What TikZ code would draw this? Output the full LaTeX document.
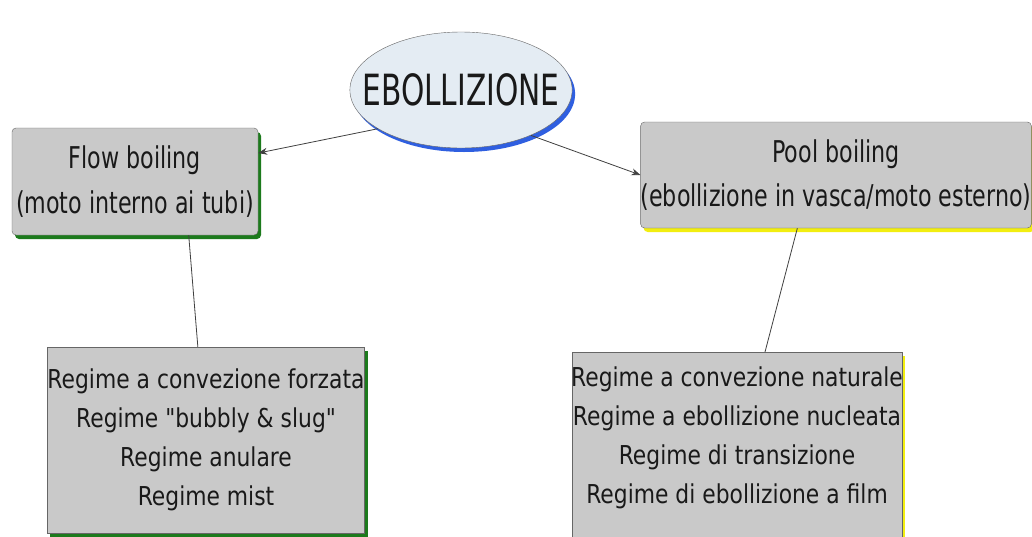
\documentclass[tikz,border=0pt]{standalone}
\usepackage{fontspec}
\usepackage{tikz}
\usetikzlibrary{shapes.geometric,shadows,arrows.meta}

\newfontfamily\mapfont[FakeStretch=0.74]{DejaVu Sans}
\newfontfamily\regfont[FakeStretch=0.84]{DejaVu Sans}
\newfontfamily\rootfont[FakeStretch=0.69]{DejaVu Sans}
\definecolor{boxgray}{HTML}{C9C9C9}
\definecolor{ellfill}{HTML}{E4ECF3}
\definecolor{shblue}{HTML}{2F5FE0}
\definecolor{shgreen}{HTML}{1C7A1C}
\definecolor{shyellow}{HTML}{F2EE10}

\begin{document}
\begin{tikzpicture}[x=1pt,y=-1pt]
    \tikzstyle{every node}=[text=black!90]
    \tikzstyle{concept}=[draw=black!60, fill=boxgray, rounded corners=4pt,
        align=center, inner sep=0pt]
    \tikzstyle{greenshadow}=[drop shadow={shadow xshift=3pt, shadow yshift=-4pt,
        fill=shgreen, opacity=1}]
    \tikzstyle{yellowshadow}=[drop shadow={shadow xshift=3pt, shadow yshift=-4pt,
        fill=shyellow, opacity=1}]
    \tikzstyle{link}=[draw=black!75, line width=0.8pt]
    \clip (0,0) rectangle (1032,536);
    \fill[white] (0,0) rectangle (1032,536);

    \node[ellipse, draw=black!60, fill=ellfill, minimum width=222, minimum height=116,
    inner xsep=-20pt, inner ysep=0pt, drop shadow={shadow xshift=3pt,
    shadow yshift=-4pt, fill=shblue, opacity=1},
    font=\rootfont\fontsize{43}{50}\selectfont] (root) at (461,90) {EBOLLIZIONE};

    \node[concept, greenshadow, minimum width=246, minimum height=107,
    font=\mapfont\fontsize{30}{45}\selectfont] (flow) at (135,181.5)
    {Flow boiling\\(moto interno ai tubi)};

    \node[concept, yellowshadow, minimum width=388, minimum height=106,
    font=\mapfont\fontsize{30}{44}\selectfont] (pool) at (836,175)
    {Pool boiling\\(ebollizione in vasca/moto esterno)};

    \node[concept, greenshadow, rounded corners=0pt, minimum width=316,
    minimum height=186, font=\regfont\fontsize{26}{39}\selectfont] (flowreg)
    at (206,440) {Regime a convezione forzata\\Regime "bubbly \& slug"\\
    Regime anulare\\Regime mist};

    \node[concept, yellowshadow, rounded corners=0pt, minimum width=330,
    minimum height=200, anchor=north] (poolreg) at (737,352) {};
    \node[align=center, inner sep=0pt, font=\regfont\fontsize{26}{39}\selectfont]
    (poolregtext) at (737,438) {Regime a convezione naturale\\Regime a ebollizione
    nucleata\\Regime di transizione\\Regime di ebollizione a film};

    \draw[link, -{Stealth[length=9pt,width=7pt]}] (root.205) -- (flow.13);
    \draw[link, -{Stealth[length=9pt,width=7pt]}] (root.327) -- (pool.west);
    \draw[link] (flow.-45) -- (flowreg.95);
    \draw[link] (pool.234) -- (poolreg.north -| 765,0);

\end{tikzpicture}
\end{document}
